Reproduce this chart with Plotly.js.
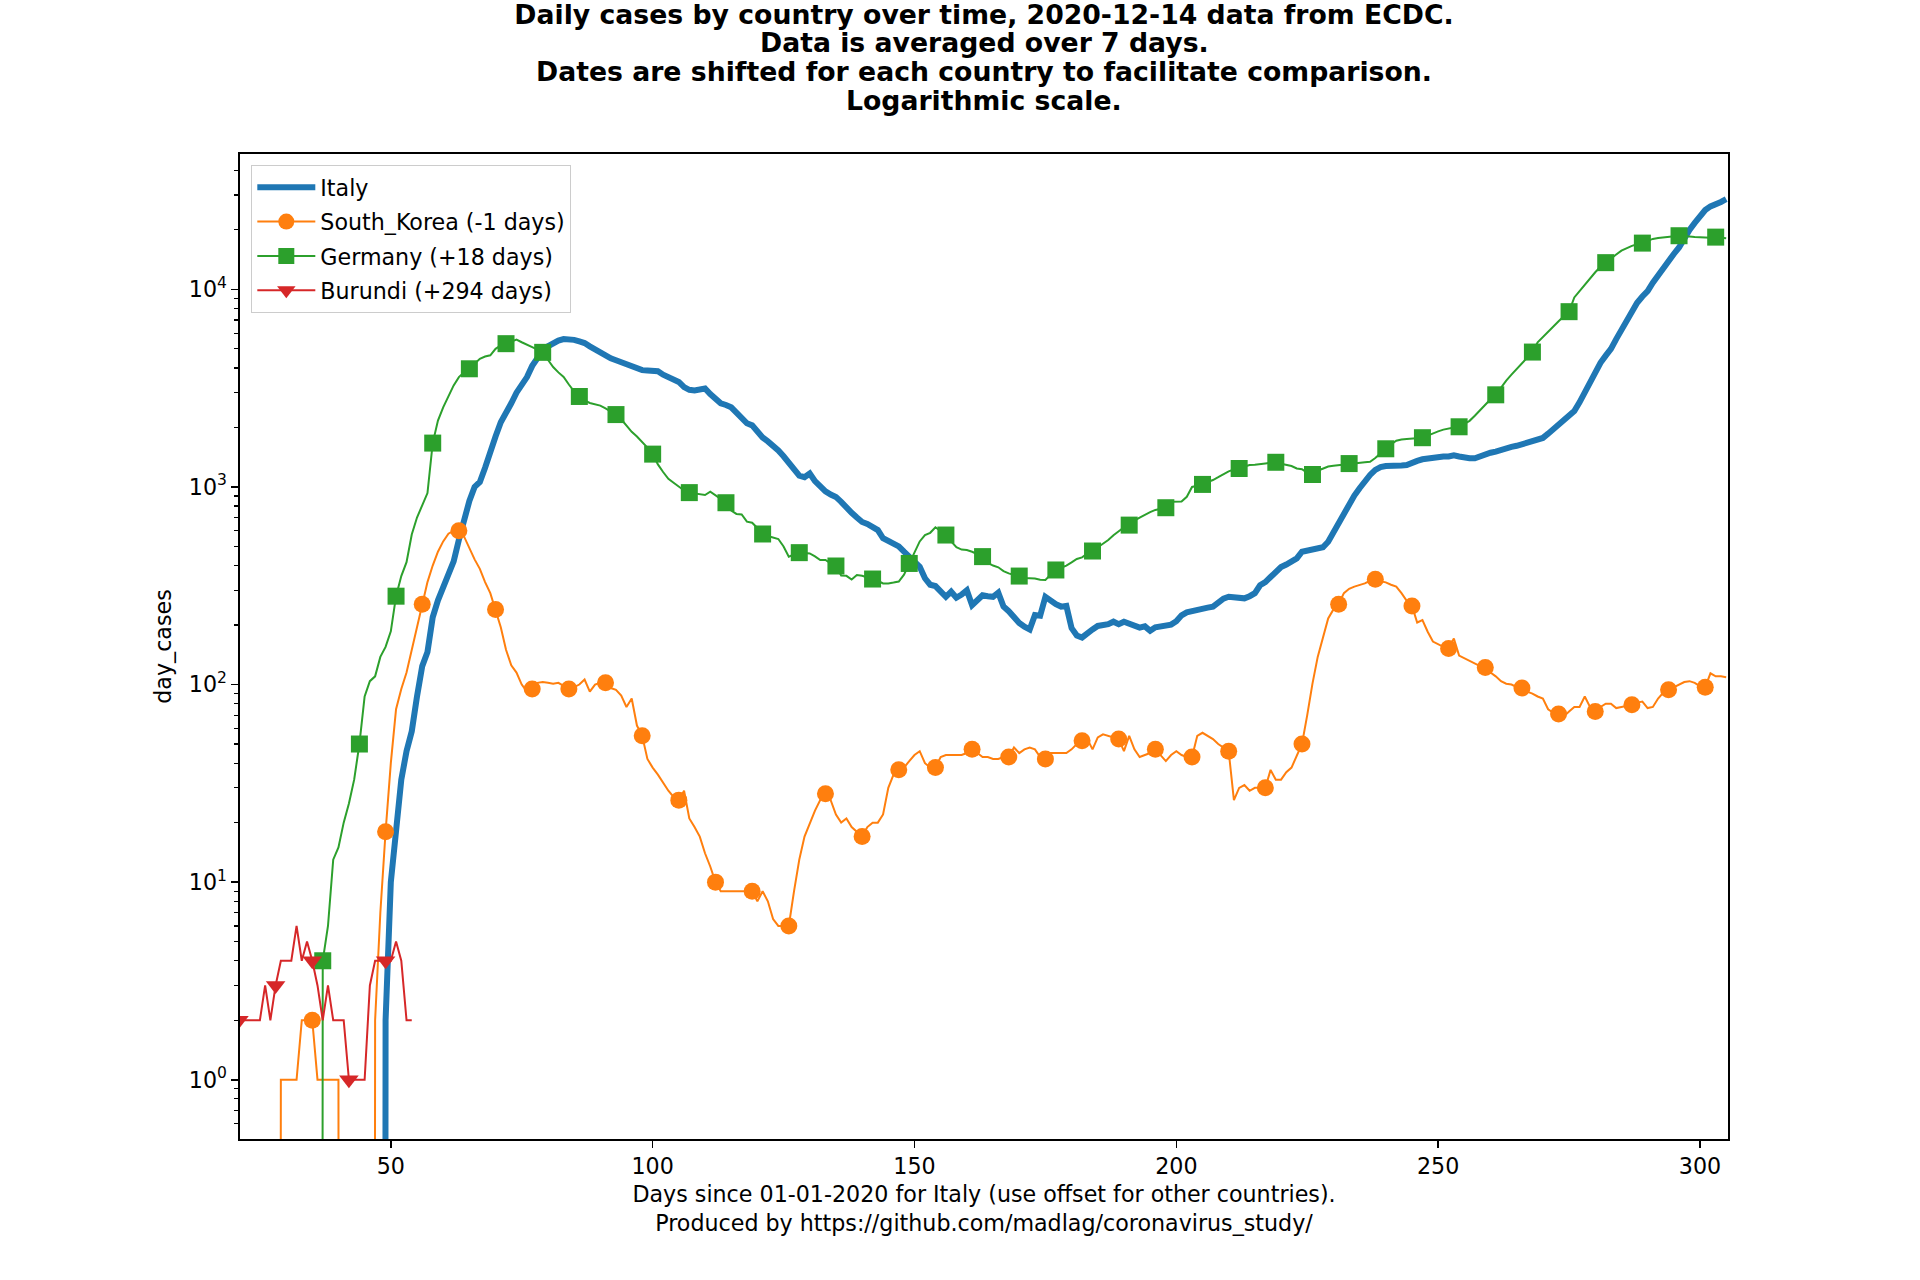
<!DOCTYPE html>
<html>
<head>
<meta charset="utf-8">
<script src="https://cdn.plot.ly/plotly-3.0.1.min.js"></script>
<style>html,body{margin:0;padding:0;background:#fff;}</style>
</head>
<body>
<div id="chart" style="width:1920px;height:1280px;"></div>
<script>
// ---- Data (daily cases, 7-day average) ----
const italyName = 'Italy';
const italyStart = 48;
const italyCases = [0, 2,
  10, 19, 33, 46, 58, 87, 124, 146, 219, 267,
  310, 354, 420, 540, 690, 850, 1000, 1060, 1250, 1525,
  1800, 2124, 2350, 2650, 3000, 3300, 3596, 4100, 4548, 4900,
  5150, 5360, 5500, 5600, 5600, 5550, 5450, 5350, 5150, 4950,
  4750, 4600, 4480, 4380, 4290, 4150, 4050, 3970, 3900, 3880,
  3860, 3850, 3700, 3600, 3520, 3400, 3200, 3100, 3080, 3100,
  3150, 2950, 2800, 2650, 2600, 2530, 2380, 2220, 2100, 2050,
  1900, 1780, 1700, 1630, 1530, 1430, 1320, 1210, 1140, 1120,
  1170, 1070, 1000, 950, 915, 890, 840, 780, 740, 700,
  665, 650, 625, 605, 550, 535, 520, 500, 470, 440,
  420, 395, 345, 320, 315, 295, 278, 295, 275, 285,
  300, 252, 268, 283, 280, 278, 292, 248, 235, 218,
  205, 196, 190, 225, 223, 278, 265, 255, 248, 250,
  193, 177, 173, 183, 190, 198, 200, 202, 208, 202,
  208, 203, 198, 194, 197, 187, 195, 198, 198, 201,
  209, 224, 232, 236, 238, 240, 245, 248, 259, 272,
  278, 276, 274, 273, 280, 290, 318, 330, 350, 370,
  393, 405, 420, 435, 470, 475, 478, 482, 495, 528,
  590, 655, 740, 830, 905, 985, 1070, 1150, 1220, 1260,
  1275, 1285, 1285, 1285, 1290, 1330, 1355, 1380, 1395, 1405,
  1420, 1425, 1425, 1445, 1425, 1400, 1397, 1397, 1435, 1465,
  1490, 1510, 1545, 1575, 1595, 1615, 1640, 1670, 1700, 1735,
  1770, 1860, 1960, 2070, 2180, 2300, 2420, 2680, 3000, 3450,
  3850, 4250, 4620, 5000, 5600, 6250, 7000, 7800, 8550, 9200,
  9800, 10800, 11800, 12600, 13800, 15100, 16300, 18200, 20000, 21700,
  23400, 25200, 26300, 26800, 27700, 28600];

const koreaName = 'South_Korea (-1 days)';
const koreaStart = 28;
const koreaMarkerDay = 35;
const koreaCases = [0, 1,
  1, 1, 1, 2, 2, 2, 1, 1, 1, 1,
  1, 0, 0, 0, 0, 0, 0, 2, 7, 18,
  40, 75, 95, 115, 150, 200, 255, 330, 400, 470,
  530, 580, 600, 600, 560, 490, 430, 385, 330, 290,
  240, 195, 150, 125, 115, 100, 92, 95, 102, 103,
  102, 101, 102, 98, 95, 97, 100, 106, 92, 100,
  102, 102, 96, 94, 88, 77, 85, 62, 55, 42,
  38, 35, 32, 29, 27, 26, 29, 21, 19, 17,
  14, 12, 10, 9, 9, 9, 9, 9, 9, 9,
  8, 9, 8, 6.5, 6, 6, 6, 9, 13, 17,
  20, 23, 26, 28, 26, 22, 20, 21, 19, 18,
  17, 19, 20, 20, 22, 30, 35, 37, 38, 41,
  44, 46, 40, 38, 38, 43, 44, 44, 44, 44,
  45, 47, 45, 43, 43, 42, 42, 43, 43, 48,
  45, 47, 48, 47, 43, 42, 45, 45, 45, 45,
  47, 50, 52, 53, 47, 54, 56, 55, 54, 53,
  46, 55, 47, 43, 44, 45, 47, 44, 41, 44,
  46, 44, 43, 43, 55, 57, 55, 53, 50, 48,
  46, 26, 30, 31, 29, 30, 30, 30, 37, 33,
  33, 36, 38, 44, 50, 70, 101, 138, 171, 216,
  240, 255, 290, 305, 313, 318, 325, 335, 341, 333,
  329, 320, 313, 290, 265, 250, 206, 212, 185, 165,
  160, 155, 152, 171, 140, 136, 132, 128, 124, 122,
  115, 110, 104, 101, 100, 97, 96, 92, 90, 87,
  85, 75, 72, 71, 69, 73, 77, 77, 87, 77,
  73, 77, 80, 80, 76, 77, 78, 79, 81, 82,
  76, 77, 85, 91, 94, 97, 100, 103, 104, 102,
  98, 97, 114, 110, 110, 109];

const germanyName = 'Germany (+18 days)';
const germanyStart = 30;
const germanyMarkerDay = 37;
const germanyCases = [0, 0, 0, 0, 0, 0, 0, 4, 6, 13,
  15, 20, 25, 33, 50, 87, 104, 110, 138, 155,
  186, 280, 354, 416, 574, 700, 800, 931, 1667, 2168,
  2530, 2900, 3266, 3596, 3800, 3963, 4200, 4450, 4570, 4635,
  5000, 5200, 5310, 5450, 5570, 5400, 5272, 5100, 4950, 4800,
  4400, 4046, 3800, 3600, 3300, 3050, 2870, 2740, 2660, 2620,
  2580, 2500, 2400, 2324, 2200, 2050, 1901, 1800, 1693, 1580,
  1466, 1300, 1190, 1100, 1050, 1002, 960, 936, 925, 915,
  910, 946, 910, 870, 832, 760, 730, 726, 667, 659,
  620, 578, 565, 555, 545, 500, 444, 455, 465, 463,
  461, 445, 427, 427, 410, 398, 356, 355, 340, 358,
  355, 348, 342, 335, 325, 325, 328, 332, 360, 410,
  470, 530, 570, 586, 625, 600, 571, 530, 495, 482,
  480, 470, 455, 444, 413, 400, 392, 375, 365, 358,
  354, 346, 345, 344, 339, 338, 360, 380, 390, 400,
  415, 432, 440, 460, 474, 495, 515, 539, 570, 600,
  625, 641, 675, 700, 725, 745, 765, 775, 785, 842,
  842, 845, 892, 1000, 1015, 1030, 1060, 1084, 1120, 1162,
  1200, 1225, 1240, 1270, 1292, 1295, 1300, 1315, 1325, 1333,
  1310, 1295, 1276, 1240, 1229, 1180, 1156, 1208, 1240, 1268,
  1280, 1290, 1300, 1313, 1320, 1325, 1335, 1342, 1400, 1480,
  1560, 1640, 1713, 1740, 1750, 1760, 1762, 1775, 1820, 1870,
  1910, 1950, 1980, 2000, 2016, 2080, 2161, 2291, 2450, 2620,
  2780, 2926, 3200, 3450, 3700, 3950, 4200, 4500, 4815, 5400,
  5754, 6150, 6500, 6900, 7300, 7710, 9100, 9800, 10500, 11400,
  12200, 13000, 13650, 14400, 15000, 15700, 16200, 16600, 16900, 17140,
  17600, 18000, 18200, 18300, 18400, 18500, 18680, 18600, 18440, 18400,
  18350, 18300, 18250, 18380, 18200, 18150];

const burundiName = 'Burundi (+294 days)';
const burundiStart = 21;
const burundiMarkerDay = 21;
const burundiCases = [2, 2, 2, 2, 2, 3, 2, 3, 4,
  4, 4, 6, 4, 5, 4, 3, 2, 3, 2,
  2, 2, 1, 1, 1, 1, 3, 4, 4, 4,
  4, 5, 4, 2, 2];

const xTicks = [50, 100, 150, 200, 250, 300];
const yTicks = [1, 10, 100, 1000, 10000];
const yTickText = ['10<sup>0</sup>', '10<sup>1</sup>', '10<sup>2</sup>', '10<sup>3</sup>', '10<sup>4</sup>'];

const titleLines = [
  'Daily cases by country over time, 2020-12-14 data from ECDC.',
  'Data is averaged over 7 days.',
  'Dates are shifted for each country to facilitate comparison.',
  'Logarithmic scale.'
];
const xTitle = 'Days since 01-01-2020 for Italy (use offset for other countries).<br>Produced by https://github.com/madlag/coronavirus_study/';
const yTitle = 'day_cases';

// ---- helpers ----
// zero counts cannot be shown on a log axis: clip them far below the axis (like matplotlib)
function days(start, arr) { return arr.map((_, i) => start + i); }
function clipVals(arr) { return arr.map(v => v > 0 ? v : 1e-30); }
function markColors(start, arr, anchor, color) {
  return arr.map((_, i) => ((((start + i - anchor) % 7) + 7) % 7 === 0) ? color : 'rgba(0,0,0,0)');
}

const C = ['#1f77b4', '#ff7f0e', '#2ca02c', '#d62728'];
const FS = 22.2;      // label / tick / legend font size
const TFS = 26.7;     // title font size
const FAM = 'DejaVu Sans, sans-serif';

const traces = [
  {
    x: days(italyStart, italyCases), y: clipVals(italyCases), name: italyName,
    type: 'scatter', mode: 'lines', legendgroup: 'a',
    line: {color: C[0], width: 6}
  },
  {
    x: days(koreaStart, koreaCases), y: clipVals(koreaCases), name: koreaName,
    type: 'scatter', mode: 'lines+markers', legendgroup: 'b',
    line: {color: C[1], width: 2},
    marker: {symbol: 'circle', size: 17, color: markColors(koreaStart, koreaCases, koreaMarkerDay, C[1]), line: {width: 0}}
  },
  {
    x: days(germanyStart, germanyCases), y: clipVals(germanyCases), name: germanyName,
    type: 'scatter', mode: 'lines+markers', legendgroup: 'c',
    line: {color: C[2], width: 2},
    marker: {symbol: 'square', size: 17, color: markColors(germanyStart, germanyCases, germanyMarkerDay, C[2]), line: {width: 0}}
  },
  {
    x: days(burundiStart, burundiCases), y: clipVals(burundiCases), name: burundiName,
    type: 'scatter', mode: 'lines+markers', legendgroup: 'd',
    line: {color: C[3], width: 2},
    marker: {symbol: 'triangle-down', size: 17, color: markColors(burundiStart, burundiCases, burundiMarkerDay, C[3]), line: {width: 0}}
  }
];

const minorVals = [];
for (let e = -1; e <= 4; e++) {
  for (let k = 2; k <= 9; k++) {
    const v = k * Math.pow(10, e);
    if (v >= 0.5 && v <= 48000) minorVals.push(v);
  }
}

// title lines: first one as layout.title, the rest as annotations (tighter line spacing like the reference)
const titleYpx = [15, 42.5, 71.5, 100.5];   // line centres, px from top
const plotTop = 154, plotBottom = 1139;
const annotations = titleLines.slice(1).map((t, i) => ({
  text: t, xref: 'paper', yref: 'paper', x: 0.5, xanchor: 'center',
  y: (plotBottom - titleYpx[i + 1]) / (plotBottom - plotTop), yanchor: 'middle',
  showarrow: false, font: {family: FAM, size: TFS, weight: 'bold', color: '#000'}
}));

const layout = {
  width: 1920, height: 1280,
  margin: {l: 240, r: 192, t: 154, b: 141, pad: 0},
  paper_bgcolor: '#ffffff', plot_bgcolor: '#ffffff',
  font: {family: FAM, size: FS, color: '#000000'},
  showlegend: true,
  title: {
    text: titleLines[0],
    font: {family: FAM, size: TFS, weight: 'bold', color: '#000000'},
    xref: 'paper', yref: 'container', x: 0.5, xanchor: 'center',
    y: 1 - titleYpx[0] / 1280, yanchor: 'middle'
  },
  annotations: annotations,
  xaxis: {
    range: [21.2, 305.35], tickmode: 'array', tickvals: xTicks,
    ticks: 'outside', ticklen: 7, tickwidth: 1.6, tickcolor: '#000',
    showline: true, mirror: true, linecolor: '#000', linewidth: 1.6,
    showgrid: false, zeroline: false,
    tickfont: {size: FS},
    title: {text: xTitle, standoff: 8, font: {size: FS}}
  },
  yaxis: {
    type: 'log', range: [-0.3, 4.685], tickmode: 'array', tickvals: yTicks, ticktext: yTickText,
    ticks: 'outside', ticklen: 7, tickwidth: 1.6, tickcolor: '#000',
    minor: {tickmode: 'array', tickvals: minorVals, ticks: 'outside', ticklen: 4, tickwidth: 1.2, tickcolor: '#000', showgrid: false},
    showline: true, mirror: true, linecolor: '#000', linewidth: 1.6,
    showgrid: false, zeroline: false,
    tickfont: {size: FS},
    title: {text: yTitle, standoff: 11, font: {size: FS}}
  },
  legend: {
    x: 0.0074, y: 0.9888, xanchor: 'left', yanchor: 'top',
    bgcolor: 'rgba(255,255,255,0.8)', bordercolor: '#cccccc', borderwidth: 1.3,
    font: {size: FS}, tracegroupgap: 2.5, traceorder: 'grouped', itemwidth: 58
  }
};

Plotly.newPlot('chart', traces, layout, {displayModeBar: false, staticPlot: true});
</script>
</body>
</html>
